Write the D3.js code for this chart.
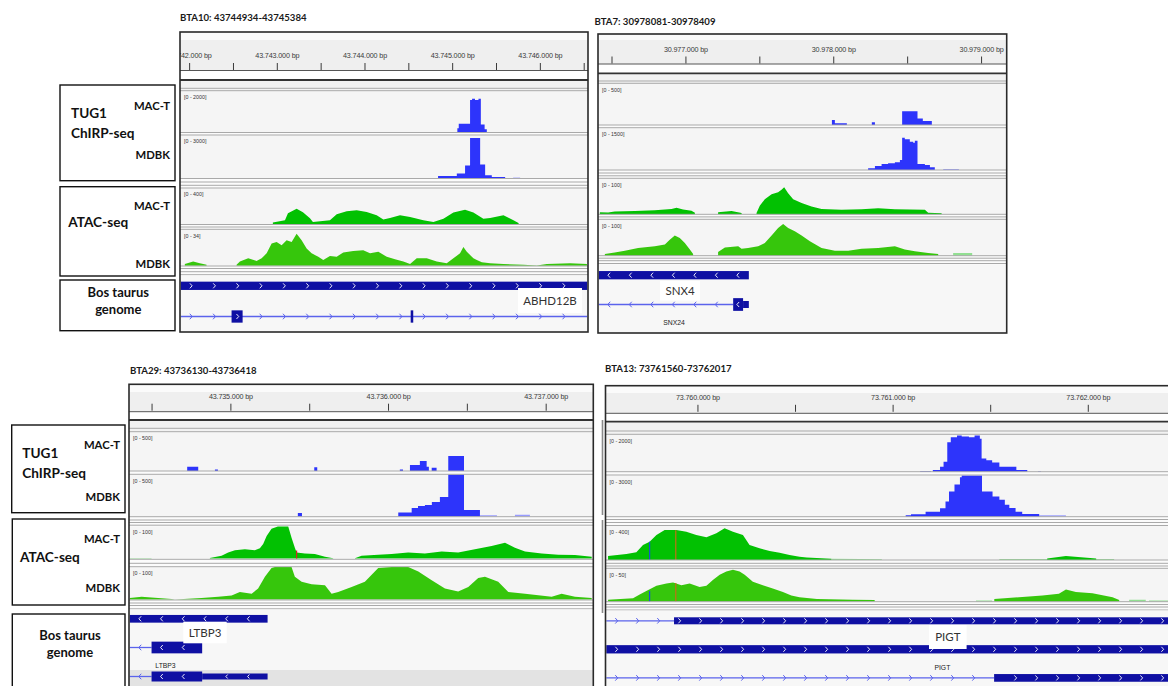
<!DOCTYPE html>
<html>
<head>
<meta charset="utf-8">
<script src="https://cdn.jsdelivr.net/npm/d3@7"></script>
<style>
  html, body { margin: 0; padding: 0; background: #fff; }
  svg { display: block; }
</style>
</head>
<body>
<svg id="fig" width="1168" height="686"></svg>
<script>
// ===================== DATA =====================
// Coverage positions are bp offsets from each region's origin; values in track units.

// ---- BTA10 region ----
const bta10Title = "BTA10: 43744934-43745384";
const bta10Origin = 43742000;
const bta10View = [-95, 4540];
const bta10Ranges = [2000, 3000, 400, 34];
const bta10ChirpMacT = [[3059,200],[3075,420],[3204,1560],[3227,1630],[3260,1560],[3300,1630],[3327,380],[3370,150],[3395,0]];
const bta10ChirpMdbk = [[2839,160],[3053,330],[3147,900],[3204,2810],[3319,960],[3376,210],[3452,90],[3604,0]];
const bta10ChirpMdbkLow = [[3695,50],[3775,0]];
const bta10AtacMacT = [[955,19],[1093,44],[1127,122],[1226,174],[1298,133],[1378,67],[1412,26],[1606,44],[1683,111],[1797,144],[1911,155],[2025,137],[2139,100],[2215,52],[2291,70],[2405,100],[2520,81],[2671,44],[2786,26],[2900,63],[3014,130],[3147,163],[3242,130],[3356,63],[3433,70],[3585,100],[3699,44],[3756,14],[3760,0]];
const bta10AtacMdbk = [[-49,1.6],[46,4],[122,2.5],[199,0.9],[200,null],[541,0.9],[579,4],[674,7.1],[769,4.6],[827,7.1],[884,11.7],[941,20.9],[998,22.3],[1055,19.3],[1112,23.9],[1169,22.3],[1226,30],[1283,23.9],[1340,16.2],[1397,11.7],[1473,8.5],[1530,5.5],[1606,9.2],[1683,8.5],[1758,12.6],[1872,13.8],[1986,14.7],[2063,11.7],[2158,13.1],[2254,8.5],[2348,6.2],[2443,4],[2520,1.6],[2596,7.1],[2710,7.1],[2824,4],[2938,2.5],[3014,7.1],[3090,11.7],[3128,17.7],[3167,13.1],[3242,7.1],[3281,5.5],[3338,3.4],[3433,2.5],[3585,1.6],[3813,0.9],[3966,0.3],[4080,1.6],[4346,2.5],[4537,1.6]];
const bta10Gene = "ABHD12B";
const bta10Strand = 1;
const bta10Models = [
  { line: null, blocks: [[-95, 4540, "cds"]] },
  { line: [-95, 4540], blocks: [[484, 610, "cds"], [2527, 2556, "cds"]] }
];

// ---- BTA7 region ----
const bta7Title = "BTA7: 30978081-30978409";
const bta7Origin = 30976500;
const bta7View = [-86, 2668];
const bta7Ranges = [500, 1500, 100, 100];
const bta7ChirpMacT = [[1491,60],[1511,20],[1592,0],[1761,32],[1782,0],[1966,167],[2070,80],[2106,48],[2167,0]];
const bta7ChirpMdbk = [[1736,60],[1782,143],[1827,214],[1871,239],[1917,275],[1951,357],[1966,1153],[1984,1096],[2018,1010],[2041,975],[2052,1046],[2070,214],[2120,179],[2154,96],[2187,0]];
const bta7ChirpMdbkLow = [[2244,36],[2350,0]];
const bta7AtacMacT = [[-79,6],[-23,5],[22,8],[158,9],[293,11],[406,15],[440,18],[484,13.5],[541,10],[564,4.6],[565,null],[721,6],[812,9],[880,3.5],[881,null],[981,3.5],[1003,24],[1037,42],[1083,56],[1127,62],[1150,69],[1168,76],[1195,59],[1229,42],[1286,32],[1353,22],[1421,15],[1556,13],[1692,14],[1804,17],[1917,14],[2120,13],[2142,4.6],[2233,3]];
const bta7AtacMdbk = [[-45,4.7],[22,9],[90,14],[180,21],[293,26],[361,31],[394,44],[428,56],[462,49],[496,35],[530,17],[552,5],[553,null],[721,10],[767,23],[857,26],[880,19],[924,21],[992,26],[1037,35],[1083,56],[1127,77],[1161,88],[1195,77],[1240,68],[1286,56],[1342,40],[1421,21],[1511,14],[1601,14],[1692,19],[1804,21],[1917,26],[1984,17],[2052,12],[2142,7.5],[2210,4.7]];
const bta7AtacMdbkLow = [[2311,7.5],[2440,7.5]];
const bta7Gene = "SNX4";
const bta7Transcript = "SNX24";
const bta7Strand = -1;
const bta7Models = [
  { line: null, blocks: [[-86, 929, "cds"]] },
  { line: [-86, 823], blocks: [[823, 890, "cds"], [890, 929, "utr"]] }
];

// ---- BTA29 region ----
const bta29Title = "BTA29: 43736130-43736418";
const bta29Origin = 43734500;
const bta29View = [-138, 2797];
const bta29Ranges = [500, 500, 100, 100];
const bta29ChirpMacT = [[226,55],[296,0],[402,19],[421,0],[1032,47],[1051,0],[1575,19],[1595,0],[1639,77],[1702,128],[1745,55],[1759,0],[1777,42],[1808,0],[1882,192],[1982,0]];
const bta29ChirpMdbk = [[928,43],[954,0],[1565,47],[1650,102],[1690,125],[1734,137],[1778,172],[1829,234],[1882,560],[1982,78],[2083,0]];
const bta29ChirpMdbkLow = [[2083,14],[2191,0],[2305,20],[2400,0]];
const bta29AtacMacT = [[370,2],[444,9],[486,19],[529,26],[592,29],[655,26],[687,32],[708,45],[730,70],[761,93],[801,100],[867,100],[888,65],[909,34],[920,19],[973,16],[1036,14],[1100,6],[1152,1],[1153,null],[1290,1],[1332,9],[1438,12],[1523,14],[1628,19],[1734,16],[1840,22],[1945,19],[2051,29],[2157,39],[2242,49],[2305,34],[2369,22],[2475,16],[2580,12],[2686,11],[2792,6]];
const bta29AtacMacTLow = [[-138,1.5],[0,1.5]];
const bta29AtacMdbk = [[-138,5],[-63,9],[42,5],[127,2],[148,0.5],[317,5],[423,9],[508,12.5],[560,23],[635,18],[676,34],[719,70],[761,97],[782,100],[888,100],[909,70],[952,55],[1015,47],[1100,44],[1142,18],[1184,23],[1269,39],[1353,55],[1438,97],[1523,100],[1628,100],[1692,86],[1777,59],[1861,34],[1945,25],[2009,39],[2072,66],[2115,70],[2199,55],[2263,23],[2369,18],[2538,9],[2601,18],[2686,9],[2792,5]];
const bta29AtacMarks = [[920, 25, "T"]];
const bta29Gene = "LTBP3";
const bta29Strand = -1;
const bta29Models = [
  { line: null, blocks: [[-138, 736, "cds"]] },
  { line: [-138, 0], blocks: [[0, 321, "cds"]] },
  { line: [-138, 0], blocks: [[0, 321, "cds"], [321, 736, "utr"]] }
];

// ---- BTA13 region ----
const bta13Title = "BTA13: 73761560-73762017";
const bta13Origin = 73760000;
const bta13View = [-467, 2494];
const bta13Ranges = [2000, 3000, 400, 50];
const bta13ChirpMacT = [[1141,37],[1196,0],[1206,90],[1243,265],[1261,530],[1280,1590],[1298,1860],[1330,1950],[1354,1900],[1391,1860],[1420,1950],[1447,1770],[1456,710],[1480,620],[1510,500],[1547,265],[1634,90],[1690,0],[1745,30],[1760,0]];
const bta13ChirpMdbk = [[1067,100],[1094,177],[1169,368],[1243,619],[1271,1105],[1289,1843],[1317,2336],[1345,2874],[1354,3200],[1458,1843],[1512,1474],[1547,1231],[1575,862],[1598,641],[1630,369],[1664,199],[1751,0]];
const bta13ChirpMdbkLow = [[1751,103],[1888,0]];
const bta13AtacMacT = [[-458,47],[-364,71],[-313,91],[-279,176],[-245,215],[-210,294],[-168,353],[-108,353],[-57,333],[-6,294],[46,267],[97,314],[139,373],[182,333],[233,294],[267,176],[318,137],[370,106],[421,86],[472,59],[523,39],[560,28],[686,16],[687,null],[1792,18],[1888,47],[2043,18]];
const bta13AtacMacTLow = [[686,16],[834,12],[945,8],[946,null],[1547,12],[2135,12]];
const bta13AtacMdbk = [[-458,2.7],[-330,4.7],[-296,10.6],[-262,15.8],[-210,23.7],[-159,27.4],[-125,29],[-82,24.8],[-40,27.4],[11,22],[46,23.7],[79,32.6],[114,40.5],[148,45.7],[182,48.4],[216,45.7],[242,40.5],[284,30],[335,24.8],[386,19.6],[438,14.2],[481,9],[523,6.3],[612,3.8],[797,2.7],[908,2],[909,null],[1521,3.8],[1647,6.3],[1768,9],[1852,11.7],[1888,18],[1939,14.2],[2024,12.6],[2127,6.3],[2161,2.2]];
const bta13AtacMdbkLow = [[1427,1.2],[1510,1.2],[1511,null],[2212,2.7],[2297,2.7],[2298,null],[2314,1.2],[2494,1.2]];
const bta13AtacMacTMarks = [[-245, 215, "C"], [-111, 350, "G"]];
const bta13AtacMdbkMarks = [[-245, 15.8, "C"], [-111, 28, "G"]];
const bta13Gene = "PIGT";
const bta13Strand = 1;
const bta13Models = [
  { line: [-467, -120], blocks: [[-120, 2494, "cds"]] },
  { line: null, blocks: [[-467, 2494, "cds"]] },
  { line: [-467, 1520], blocks: [[1520, 2494, "cds"]] }
];

// ===================== STYLE =====================
const COL = {
  chirp: "#2d34fb", chirpLow: "#979bff",
  macT: "#02c102", mdbk: "#36c60c", atacLow: "#92df92",
  gene: "#0f10a3", intron: "#5b63ec",
  border: "#2a2a2a", sep: "#a9a9a9", track: "#f5f5f5", ruler: "#efefef"
};
const BASE_COL = { A: "#1aa31a", C: "#1c4fd8", G: "#c26f17", T: "#d42424" };
const SANS = "'Liberation Sans', Arial, sans-serif";
const LABEL_FONT = "Lato, 'Open Sans', sans-serif";

const svg = d3.select("#fig");
const defs = svg.append("defs");

// ===================== PANELS =====================
const panels = [
  {
    id: "bta10", title: bta10Title, origin: bta10Origin, view: bta10View, ranges: bta10Ranges,
    box: { x0: 180, x1: 588, y0: 32, y1: 332 }, titleAt: [180, 20.5],
    ruler: { fillTop: 40, axisY: 70, lineA: 70.5, lineB: 80 },
    seps: [88.3, 90.7, 132.5, 135, 178.5, 182, 185.3, 188, 224.5, 227, 229.3, 266, 268.5, 271.7, 274.7],
    tracks: [
      { top: 91, bottom: 132.3, data: bta10ChirpMacT, color: COL.chirp, step: true },
      { top: 135.3, bottom: 178.3, data: bta10ChirpMdbk, low: bta10ChirpMdbkLow, color: COL.chirp, lowColor: COL.chirpLow, step: true },
      { top: 188.3, bottom: 224.3, data: bta10AtacMacT, color: COL.macT },
      { top: 229.6, bottom: 265.8, data: bta10AtacMdbk, color: COL.mdbk }
    ],
    geneTop: 275, models: bta10Models, strand: bta10Strand,
    rows: [{ y: 285.8, h: 8.3, hu: 5 }, { y: 316.5, h: 12.3, hu: 7 }],
    chevStep: 23.3,
    nameBox: { x: 518, y: 288, w: 64, h: 25, text: bta10Gene, size: 11.5 },
    smallName: null
  },
  {
    id: "bta7", title: bta7Title, origin: bta7Origin, view: bta7View, ranges: bta7Ranges,
    box: { x0: 598, x1: 1006.7, y0: 34, y1: 333 }, titleAt: [594.5, 24.5],
    ruler: { fillTop: 40, axisY: 63.5, lineA: 64, lineB: 73.3 },
    seps: [81, 83.3, 125, 127.7, 170, 173, 175.8, 178.3, 214.3, 216.9, 219.3, 255.7, 258.2, 260.7, 263.5],
    tracks: [
      { top: 83.6, bottom: 125, data: bta7ChirpMacT, color: COL.chirp, step: true },
      { top: 128, bottom: 170, data: bta7ChirpMdbk, low: bta7ChirpMdbkLow, color: COL.chirp, lowColor: COL.chirpLow, step: true },
      { top: 178.6, bottom: 214.3, data: bta7AtacMacT, color: COL.macT },
      { top: 219.6, bottom: 255.7, data: bta7AtacMdbk, low: bta7AtacMdbkLow, color: COL.mdbk, lowColor: COL.atacLow }
    ],
    geneTop: 264, models: bta7Models, strand: bta7Strand,
    rows: [{ y: 275.2, h: 8.3, hu: 5 }, { y: 304.5, h: 12.7, hu: 7 }],
    chevStep: 21.5,
    nameBox: { x: 660, y: 281, w: 40, h: 19.5, text: bta7Gene, size: 11.5 },
    smallName: { x: 674, y: 324.5, text: bta7Transcript }
  },
  {
    id: "bta29", title: bta29Title, origin: bta29Origin, view: bta29View, ranges: bta29Ranges,
    box: { x0: 129, x1: 593.3, y0: 384.3, y1: 700 }, titleAt: [130, 373.5],
    ruler: { fillTop: 392, axisY: 410.7, lineA: 411.7, lineB: 420 },
    seps: [428.3, 431.7, 471, 474.3, 516.7, 520, 522.5, 525.2, 559.3, 563.3, 566.7, 600, 603, 605.5, 608.8],
    tracks: [
      { top: 432, bottom: 471, data: bta29ChirpMacT, color: COL.chirp, step: true },
      { top: 474.6, bottom: 516.5, data: bta29ChirpMdbk, low: bta29ChirpMdbkLow, color: COL.chirp, lowColor: COL.chirpLow, step: true },
      { top: 526.4, bottom: 558.6, data: bta29AtacMacT, low: bta29AtacMacTLow, color: COL.macT, lowColor: COL.atacLow, marks: bta29AtacMarks },
      { top: 567, bottom: 599.6, data: bta29AtacMdbk, color: COL.mdbk }
    ],
    geneTop: 609, models: bta29Models, strand: bta29Strand,
    rows: [{ y: 618.8, h: 7.7, hu: 5 }, { y: 647.5, h: 11.7, hu: 6 }, { y: 676.5, h: 10, hu: 6, band: [670, 700] }],
    chevStep: 21.7,
    nameBox: { x: 183.3, y: 621.7, w: 43.4, h: 21.6, text: bta29Gene, size: 11.5 },
    smallName: { x: 165.5, y: 668.3, text: bta29Gene }
  },
  {
    id: "bta13", title: bta13Title, origin: bta13Origin, view: bta13View, ranges: bta13Ranges,
    box: { x0: 605.5, x1: 1185, y0: 385.7, y1: 700 }, titleAt: [605, 371.5],
    ruler: { fillTop: 393, axisY: 411.8, lineA: 413.3, lineB: 421.7 },
    seps: [431, 434.3, 471.7, 475, 516.7, 519.5, 522.5, 525.5, 560, 563.3, 566, 568.3, 601.7, 604.5, 607, 610],
    tracks: [
      { top: 434.6, bottom: 471.7, data: bta13ChirpMacT, color: COL.chirp, step: true },
      { top: 475.5, bottom: 516.7, data: bta13ChirpMdbk, low: bta13ChirpMdbkLow, color: COL.chirp, lowColor: COL.chirpLow, step: true },
      { top: 526, bottom: 560, data: bta13AtacMacT, low: bta13AtacMacTLow, color: COL.macT, lowColor: COL.atacLow, marks: bta13AtacMacTMarks },
      { top: 568.6, bottom: 601.4, data: bta13AtacMdbk, low: bta13AtacMdbkLow, color: COL.mdbk, lowColor: COL.atacLow, marks: bta13AtacMdbkMarks }
    ],
    geneTop: 610, models: bta13Models, strand: bta13Strand,
    rows: [{ y: 620.8, h: 7, hu: 5 }, { y: 649.3, h: 8.3, hu: 5 }, { y: 677.9, h: 7.7, hu: 5 }],
    chevStep: 21,
    nameBox: { x: 929, y: 625, w: 37.6, h: 24, text: bta13Gene, size: 11.5 },
    smallName: { x: 942.4, y: 670, text: bta13Gene }
  }
];

const fmtBp = v => d3.format(",")(v).replace(/,/g, ".") + " bp";

function chevron(g, cx, cy, dir, h, color, sw) {
  const w = h * 0.45;
  const d = dir > 0
    ? `M${cx - w / 2},${cy - h / 2}L${cx + w / 2},${cy}L${cx - w / 2},${cy + h / 2}`
    : `M${cx + w / 2},${cy - h / 2}L${cx - w / 2},${cy}L${cx + w / 2},${cy + h / 2}`;
  g.append("path").attr("d", d).attr("fill", "none").attr("stroke", color)
    .attr("stroke-width", sw).attr("stroke-linejoin", "miter");
}

function drawPanel(p) {
  const { x0, x1, y0, y1 } = p.box;
  const x = d3.scaleLinear()
    .domain([p.origin + p.view[0], p.origin + p.view[1]])
    .range([x0 + 0.8, x1 - 0.8]);

  defs.append("clipPath").attr("id", "clip-" + p.id)
    .append("rect").attr("x", x0).attr("y", y0).attr("width", x1 - x0).attr("height", y1 - y0);

  // title
  svg.append("text").attr("x", p.titleAt[0]).attr("y", p.titleAt[1])
    .attr("font-family", LABEL_FONT).attr("font-weight", 700).attr("font-size", 9.6)
    .attr("fill", "#1a1a1a").text(p.title);

  const g = svg.append("g").attr("clip-path", `url(#clip-${p.id})`);

  // backgrounds
  g.append("rect").attr("x", x0).attr("y", y0).attr("width", x1 - x0).attr("height", y1 - y0).attr("fill", "#fbfbfb");
  g.append("rect").attr("x", x0).attr("y", p.ruler.fillTop).attr("width", x1 - x0)
    .attr("height", p.ruler.lineA - p.ruler.fillTop).attr("fill", COL.ruler);
  g.append("rect").attr("x", x0).attr("y", p.ruler.lineA).attr("width", x1 - x0)
    .attr("height", p.ruler.lineB - p.ruler.lineA).attr("fill", "#ffffff");
  g.append("rect").attr("x", x0).attr("y", p.ruler.lineB).attr("width", x1 - x0)
    .attr("height", p.tracks[0].top - p.ruler.lineB).attr("fill", "#f2f2f2");

  // ruler axis: ticks every 500 bp, labels on whole kb
  const first = Math.ceil((p.origin + p.view[0]) / 500) * 500;
  const last = p.origin + p.view[1];
  const tickVals = d3.range(first, last + 1, 500);
  const axis = d3.axisTop(x).tickValues(tickVals).tickSize(7).tickPadding(5)
    .tickFormat(v => (v % 1000 === 0 ? fmtBp(v) : ""));
  const ag = g.append("g").attr("transform", `translate(0,${p.ruler.axisY})`).call(axis);
  ag.select(".domain").remove();
  ag.selectAll(".tick line").attr("stroke", "#3a3a3a").attr("stroke-width", 1);
  ag.selectAll(".tick text").attr("font-family", SANS).attr("font-size", 7.2)
    .attr("fill", "#3a3a3a").attr("letter-spacing", "-0.15");

  g.append("line").attr("x1", x0).attr("x2", x1).attr("y1", p.ruler.lineA).attr("y2", p.ruler.lineA)
    .attr("stroke", "#555").attr("stroke-width", 1);
  g.append("line").attr("x1", x0).attr("x2", x1).attr("y1", p.ruler.lineB).attr("y2", p.ruler.lineB)
    .attr("stroke", "#333").attr("stroke-width", 1.8);

  // tracks
  p.tracks.forEach((t, i) => {
    const max = p.ranges[i];
    g.append("rect").attr("x", x0).attr("y", t.top).attr("width", x1 - x0)
      .attr("height", t.bottom - t.top).attr("fill", COL.track);
    const y = d3.scaleLinear().domain([0, max]).range([t.bottom, t.top]).clamp(true);
    const area = d3.area()
      .defined(d => d[1] !== null)
      .x(d => x(p.origin + d[0]))
      .y0(t.bottom)
      .y1(d => y(d[1]))
      .curve(t.step ? d3.curveStepAfter : d3.curveLinear);
    if (t.low) {
      g.append("path").datum(t.low).attr("d", area).attr("fill", t.lowColor);
    }
    g.append("path").datum(t.data).attr("d", area).attr("fill", t.color);
    (t.marks || []).forEach(m => {
      g.append("line").attr("x1", x(p.origin + m[0])).attr("x2", x(p.origin + m[0]))
        .attr("y1", t.bottom).attr("y2", y(m[1]))
        .attr("stroke", BASE_COL[m[2]]).attr("stroke-width", 1.2);
    });
    g.append("text").attr("x", x0 + 4).attr("y", t.top + 8)
      .attr("font-family", SANS).attr("font-size", 5.3).attr("fill", "#333")
      .text(`[0 - ${max}]`);
  });

  // separators
  p.seps.forEach(s => {
    g.append("line").attr("x1", x0).attr("x2", x1).attr("y1", s).attr("y2", s)
      .attr("stroke", COL.sep).attr("stroke-width", 1);
  });

  // gene track
  g.append("rect").attr("x", x0).attr("y", p.geneTop + 0.5).attr("width", x1 - x0)
    .attr("height", y1 - p.geneTop).attr("fill", "#f7f7f7");
  p.models.forEach((m, ri) => {
    const r = p.rows[ri];
    if (r.band) {
      g.append("rect").attr("x", x0).attr("y", r.band[0]).attr("width", x1 - x0)
        .attr("height", r.band[1] - r.band[0]).attr("fill", "#e3e3e3");
    }
    const grid = [];
    for (let cx = x0 + 11; cx < x1; cx += p.chevStep) grid.push(cx);
    if (m.line) {
      const a = x(p.origin + m.line[0]), b = x(p.origin + m.line[1]);
      g.append("line").attr("x1", a).attr("x2", b).attr("y1", r.y).attr("y2", r.y)
        .attr("stroke", COL.intron).attr("stroke-width", 1.3);
      grid.filter(cx => cx > a + 2 && cx < b - 2).forEach(cx => chevron(g, cx, r.y, p.strand, 5.5, COL.intron, 1));
    }
    m.blocks.forEach(bk => {
      const a = x(p.origin + bk[0]), b = x(p.origin + bk[1]);
      const h = bk[2] === "cds" ? r.h : r.hu;
      g.append("rect").attr("x", a).attr("y", r.y - h / 2).attr("width", Math.max(1.5, b - a))
        .attr("height", h).attr("fill", COL.gene);
      grid.filter(cx => cx > a + 3 && cx < b - 3).forEach(cx => chevron(g, cx, r.y, p.strand, Math.min(5, h - 2), "#ffffff", 0.9));
    });
  });

  if (p.nameBox) {
    const nb = p.nameBox;
    g.append("rect").attr("x", nb.x).attr("y", nb.y).attr("width", nb.w).attr("height", nb.h).attr("fill", "#fff");
    g.append("text").attr("x", nb.x + nb.w / 2).attr("y", nb.y + nb.h / 2 + nb.size * 0.36)
      .attr("text-anchor", "middle").attr("font-family", LABEL_FONT).attr("font-size", nb.size)
      .attr("fill", "#333").text(nb.text);
  }
  if (p.smallName) {
    g.append("text").attr("x", p.smallName.x).attr("y", p.smallName.y).attr("text-anchor", "middle")
      .attr("font-family", SANS).attr("font-size", 6.8).attr("fill", "#222").text(p.smallName.text);
  }

  // frame
  svg.append("rect").attr("x", x0).attr("y", y0).attr("width", x1 - x0).attr("height", y1 - y0)
    .attr("fill", "none").attr("stroke", COL.border).attr("stroke-width", 1.6);
}

panels.forEach(drawPanel);

// thin divider left of the BTA13 panel
svg.append("line").attr("x1", 602.5).attr("x2", 602.5).attr("y1", 420).attr("y2", 515)
  .attr("stroke", "#8a8a8a").attr("stroke-width", 1.6);
svg.append("line").attr("x1", 602.5).attr("x2", 602.5).attr("y1", 520).attr("y2", 613)
  .attr("stroke", "#8a8a8a").attr("stroke-width", 1.6);

// ===================== TRACK LEGEND BOXES =====================
const legendGroups = [
  {
    boxes: [[60, 85, 115, 95.7], [60, 186.7, 115, 89.3], [60, 280, 115, 50.7]],
    texts: [
      ["TUG1", 71, 118.3, "start", 13.6], ["ChIRP-seq", 71, 138.3, "start", 13.6],
      ["MAC-T", 170, 110, "end", 11.3], ["MDBK", 170, 159.3, "end", 11.3],
      ["MAC-T", 170, 210, "end", 11.3], ["ATAC-seq", 68.3, 226.7, "start", 13.6], ["MDBK", 170, 268.3, "end", 11.3],
      ["Bos taurus", 118.3, 296.7, "middle", 13], ["genome", 118.3, 313.5, "middle", 13]
    ]
  },
  {
    boxes: [[11.7, 425, 113.3, 87.7], [12.3, 519, 112.7, 86], [12.3, 614, 112.7, 90]],
    texts: [
      ["MAC-T", 120, 449.3, "end", 11.3], ["TUG1", 22.3, 458.3, "start", 13.6], ["ChIRP-seq", 22.3, 478.3, "start", 13.6],
      ["MDBK", 120, 500.7, "end", 11.3],
      ["MAC-T", 120, 543.3, "end", 11.3], ["ATAC-seq", 20, 561.7, "start", 13.6], ["MDBK", 120, 591.7, "end", 11.3],
      ["Bos taurus", 70, 640, "middle", 13], ["genome", 70, 656.5, "middle", 13]
    ]
  }
];

legendGroups.forEach(lg => {
  lg.boxes.forEach(b => {
    svg.append("rect").attr("x", b[0]).attr("y", b[1]).attr("width", b[2]).attr("height", b[3])
      .attr("fill", "#fff").attr("stroke", "#111").attr("stroke-width", 1.4);
  });
  lg.texts.forEach(t => {
    svg.append("text").attr("x", t[1]).attr("y", t[2]).attr("text-anchor", t[3])
      .attr("font-family", LABEL_FONT).attr("font-weight", 700).attr("font-size", t[4])
      .attr("fill", "#111").text(t[0]);
  });
});
</script>
</body>
</html>
